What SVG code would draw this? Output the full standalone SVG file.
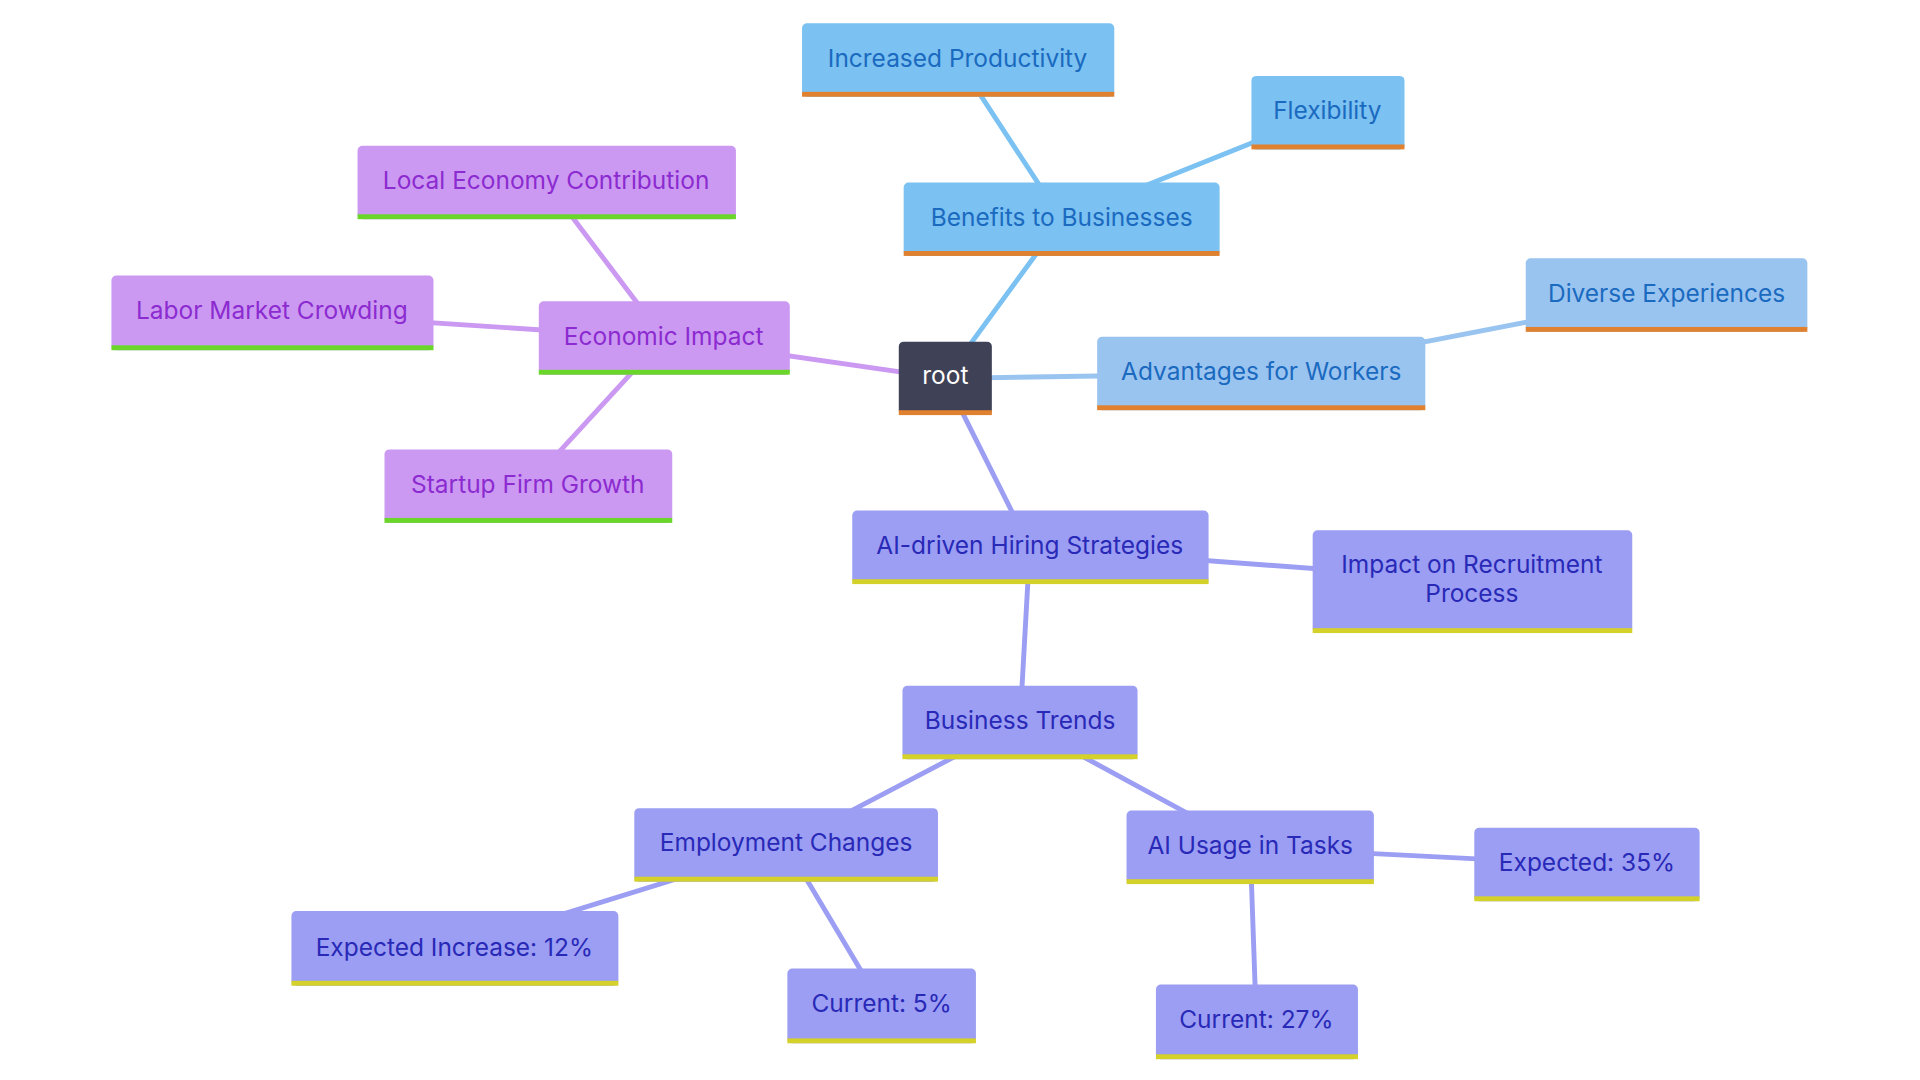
<svg xmlns="http://www.w3.org/2000/svg" width="1920" height="1080" viewBox="0 0 1920 1080">
<style>
text{font-family:Inter,"Noto Sans",sans-serif;font-size:20px;text-anchor:middle;dominant-baseline:central}
.b rect.f{fill:#7bc1f2}.b text{fill:#1a6ac0}
.w rect.f{fill:#9ac4f0}.w text{fill:#1a6ac0}
.p rect.f{fill:#cc99f2}.p text{fill:#8b2bd0}
.v rect.f{fill:#9b9ef2}.v text{fill:#2929b8}
.o{fill:#e0812f}.g{fill:#6ad62a}.y{fill:#d4d12a}
.e line{stroke-width:4;stroke-linecap:round}
</style>
<rect width="1920" height="1080" fill="#fff"/>
<g transform="scale(1.2245)">
<g id="connectors" class="e">
<line x1="772" y1="309" x2="867" y2="179" stroke="#7bc1f2"/>
<line x1="867" y1="179" x2="782" y2="49" stroke="#7bc1f2"/>
<line x1="867" y1="179" x2="1084" y2="92" stroke="#7bc1f2"/>
<line x1="772" y1="309" x2="1030" y2="305" stroke="#9ac4f0"/>
<line x1="1030" y1="305" x2="1361" y2="241" stroke="#9ac4f0"/>
<line x1="772" y1="309" x2="542" y2="276" stroke="#cc99f2"/>
<line x1="542" y1="276" x2="446" y2="149" stroke="#cc99f2"/>
<line x1="542" y1="276" x2="222" y2="255" stroke="#cc99f2"/>
<line x1="542" y1="276" x2="431" y2="397" stroke="#cc99f2"/>
<line x1="772" y1="309" x2="841" y2="447" stroke="#9b9ef2"/>
<line x1="841" y1="447" x2="1202" y2="474" stroke="#9b9ef2"/>
<line x1="841" y1="447" x2="833" y2="590" stroke="#9b9ef2"/>
<line x1="833" y1="590" x2="642" y2="690" stroke="#9b9ef2"/>
<line x1="833" y1="590" x2="1021" y2="692" stroke="#9b9ef2"/>
<line x1="642" y1="690" x2="371" y2="774" stroke="#9b9ef2"/>
<line x1="642" y1="690" x2="720" y2="821" stroke="#9b9ef2"/>
<line x1="1021" y1="692" x2="1296" y2="706" stroke="#9b9ef2"/>
<line x1="1021" y1="692" x2="1026" y2="834" stroke="#9b9ef2"/>
</g>
<g id="root"><rect x="734" y="279" width="76" height="60" rx="4" fill="#3f4257"/><rect class="o" x="734" y="335" width="76" height="4"/><text x="772" y="306" fill="#fff">root</text></g>
<g id="n1" class="b"><rect class="f" x="655" y="19" width="255" height="60" rx="4"/><rect class="o" x="655" y="75" width="255" height="4"/><text x="782" y="47">Increased Productivity</text></g>
<g id="n2" class="b"><rect class="f" x="1022" y="62" width="125" height="60" rx="4"/><rect class="o" x="1022" y="118" width="125" height="4"/><text x="1084" y="90">Flexibility</text></g>
<g id="n3" class="b"><rect class="f" x="738" y="149" width="258" height="60" rx="4"/><rect class="o" x="738" y="205" width="258" height="4"/><text x="867" y="177">Benefits to Businesses</text></g>
<g id="n4" class="w"><rect class="f" x="1246" y="211" width="230" height="60" rx="4"/><rect class="o" x="1246" y="267" width="230" height="4"/><text x="1361" y="239">Diverse Experiences</text></g>
<g id="n5" class="w"><rect class="f" x="896" y="275" width="268" height="60" rx="4"/><rect class="o" x="896" y="331" width="268" height="4"/><text x="1030" y="303">Advantages for Workers</text></g>
<g id="n6" class="p"><rect class="f" x="292" y="119" width="309" height="60" rx="4"/><rect class="g" x="292" y="175" width="309" height="4"/><text x="446" y="147">Local Economy Contribution</text></g>
<g id="n7" class="p"><rect class="f" x="91" y="225" width="263" height="61" rx="4"/><rect class="g" x="91" y="282" width="263" height="4"/><text x="222" y="253">Labor Market Crowding</text></g>
<g id="n8" class="p"><rect class="f" x="440" y="246" width="205" height="60" rx="4"/><rect class="g" x="440" y="302" width="205" height="4"/><text x="542" y="274">Economic Impact</text></g>
<g id="n9" class="p"><rect class="f" x="314" y="367" width="235" height="60" rx="4"/><rect class="g" x="314" y="423" width="235" height="4"/><text x="431" y="395">Startup Firm Growth</text></g>
<g id="n10" class="v"><rect class="f" x="696" y="417" width="291" height="60" rx="4"/><rect class="y" x="696" y="473" width="291" height="4"/><text x="841" y="445">AI-driven Hiring Strategies</text></g>
<g id="n11" class="v"><rect class="f" x="1072" y="433" width="261" height="84" rx="4"/><rect class="y" x="1072" y="513" width="261" height="4"/><text x="1202" y="461">Impact on Recruitment</text><text x="1202" y="484">Process</text></g>
<g id="n12" class="v"><rect class="f" x="737" y="560" width="192" height="60" rx="4"/><rect class="y" x="737" y="616" width="192" height="4"/><text x="833" y="588">Business Trends</text></g>
<g id="n13" class="v"><rect class="f" x="518" y="660" width="248" height="60" rx="4"/><rect class="y" x="518" y="716" width="248" height="4"/><text x="642" y="688">Employment Changes</text></g>
<g id="n14" class="v"><rect class="f" x="920" y="662" width="202" height="60" rx="4"/><rect class="y" x="920" y="718" width="202" height="4"/><text x="1021" y="690">AI Usage in Tasks</text></g>
<g id="n15" class="v"><rect class="f" x="1204" y="676" width="184" height="60" rx="4"/><rect class="y" x="1204" y="732" width="184" height="4"/><text x="1296" y="704">Expected: 35%</text></g>
<g id="n16" class="v"><rect class="f" x="238" y="744" width="267" height="61" rx="4"/><rect class="y" x="238" y="801" width="267" height="4"/><text x="371" y="773">Expected Increase: 12%</text></g>
<g id="n17" class="v"><rect class="f" x="643" y="791" width="154" height="61" rx="4"/><rect class="y" x="643" y="848" width="154" height="4"/><text x="720" y="819">Current: 5%</text></g>
<g id="n18" class="v"><rect class="f" x="944" y="804" width="165" height="61" rx="4"/><rect class="y" x="944" y="861" width="165" height="4"/><text x="1026" y="832">Current: 27%</text></g>
</g>
</svg>
